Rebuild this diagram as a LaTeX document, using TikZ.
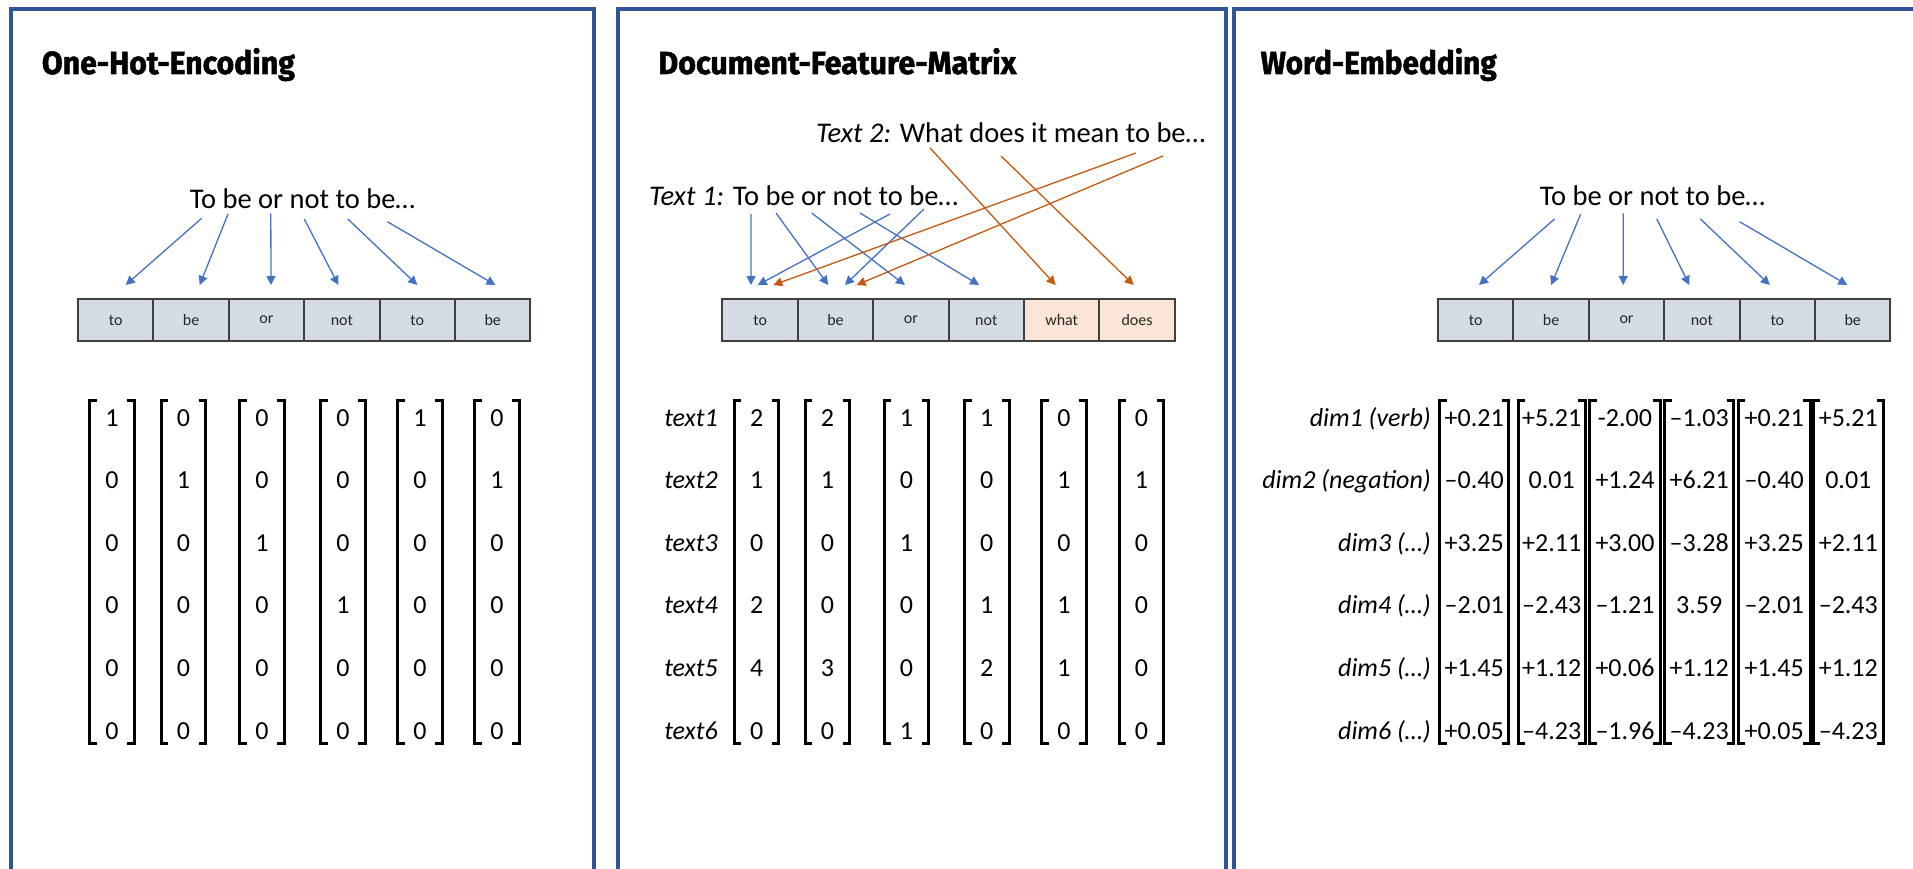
\documentclass[tikz,border=0pt]{standalone}
\usepackage{fontspec}
\usepackage{graphicx}
\setmainfont{Carlito}
\newfontfamily\titlefont{Fira Sans}[BoldFeatures={FakeBold=1.6}]
\usetikzlibrary{arrows.meta,calc}

\definecolor{frameblue}{RGB}{47,85,151}
\definecolor{arrblue}{RGB}{68,114,196}
\definecolor{arrorange}{RGB}{197,90,17}
\definecolor{boxgray}{RGB}{214,220,229}
\definecolor{boxpeach}{RGB}{251,229,214}
\definecolor{boxline}{RGB}{64,64,64}

\newlength\fitlen
\newcommand\fitto[2]{\settowidth\fitlen{#2}\pgfmathsetmacro\fitsx{#1/\fitlen}\scalebox{\fitsx}[1]{#2}}

\tikzset{
  panelframe/.style={draw=frameblue, line width=4pt},
  paneltitle/.style={anchor=base west, inner sep=0pt, font=\titlefont\bfseries\fontsize{32}{36}\selectfont},
  sentence/.style={anchor=base, inner sep=0pt, font=\fontsize{28.5}{34}\selectfont},
  sentencew/.style={anchor=base west, inner sep=0pt, font=\fontsize{28.5}{34}\selectfont},
  wordbox/.style={draw=boxline, line width=2pt, fill=boxgray, minimum width=75.4pt, minimum height=42pt, inner sep=0pt, font=\fontsize{16}{18}\selectfont, text=black!85},
  newbox/.style={wordbox, fill=boxpeach},
  arrb/.style={draw=arrblue, line width=1.3pt, -{Triangle[length=9pt,width=9pt]}},
  arro/.style={draw=arrorange, line width=1.3pt, -{Triangle[length=9pt,width=9pt]}},
  cell/.style={anchor=base, inner sep=0pt, font=\fontsize{26}{30}\selectfont},
  rowlabel/.style={anchor=base east, inner sep=0pt, font=\itshape\fontsize{26}{30}\selectfont},
  colvec/.style={minimum width=#1, minimum height=342pt, inner sep=0pt},
  brk/.style={draw=black, line width=3pt}
}

\begin{document}
\begin{tikzpicture}[x=1pt,y=-1pt]
\clip (0,0) rectangle (1913,869);
\fill[white] (0,0) rectangle (1913,869);

% ---------- panel frames ----------
\draw[panelframe] (11,9) rectangle (594,900);
\draw[panelframe] (618,9) rectangle (1226,900);
\draw[panelframe] (1234,9) rectangle (1960,900);

% ---------- titles ----------
\node[paneltitle] (h1) at (41.7,74) {\fitto{253}{One-Hot-Encoding}};
\node[paneltitle] (h2) at (658.2,74) {\fitto{358}{Document-Feature-Matrix}};
\node[paneltitle] (h3) at (1260.5,74) {\fitto{236}{Word-Embedding}};

% ---------- sentences ----------
\node[sentence] (s1) at (302.5,208.5) {To be or not to be…};
\node[sentencew] (t2) at (816,142.7) {\textit{Text 2:} What does it mean to be…};
\node[sentencew] (t1) at (649,205.6) {\textit{Text 1:} To be or not to be…};
\node[sentence] (s3) at (1652.5,205) {To be or not to be…};

% ---------- word boxes ----------
\foreach \w [count=\i] in {to,be,or,not,to,be}{
  \node[wordbox] (a\i) at ({78+37.7+75.4*(\i-1)},320) {\w};
  \node[wordbox] (c\i) at ({1438+37.7+75.4*(\i-1)},320) {\w};
}
\foreach \w/\st [count=\i] in {to/wordbox,be/wordbox,or/wordbox,not/wordbox,what/newbox,does/newbox}{
  \node[\st] (b\i) at ({722.4+37.7+75.4*(\i-1)},320) {\w};
}

% ---------- arrows panel 1 ----------
\coordinate (s1w1) at (201.6,218.3);
\coordinate (s1w2) at (228,214);
\coordinate (s1w3) at (270.8,213.3);
\coordinate (s1w4) at (304.3,219);
\coordinate (s1w5) at (347.8,219);
\coordinate (s1w6) at (387.4,221.7);
\draw[arrb] (s1w1) -- ([xshift=10pt,yshift=13pt]a1.north);
\draw[arrb] (s1w2) -- ([xshift=8.6pt,yshift=13pt]a2.north);
\draw[arrb] (s1w3) -- ([xshift=4.5pt,yshift=13pt]a3.north);
\draw[arrb] (s1w4) -- ([xshift=-3.5pt,yshift=13pt]a4.north);
\draw[arrb] (s1w5) -- ([xshift=0pt,yshift=13pt]a5.north);
\draw[arrb] (s1w6) -- ([xshift=2.7pt,yshift=13pt]a6.north);

% ---------- arrows panel 2 ----------
\coordinate (t1w1) at (751,214);
\coordinate (t1w2) at (776,213);
\coordinate (t1w3) at (811.7,213);
\coordinate (t1w4) at (860,213);
\coordinate (t1w5) at (890,214);
\coordinate (t1w6) at (924,209);
\coordinate (t2w1) at (930,148);
\coordinate (t2w2) at (1001,156);
\coordinate (t2w3) at (1136,153);
\coordinate (t2w4) at (1163,156);
\draw[arrb] (t1w1) -- ([xshift=-9.1pt,yshift=13pt]b1.north);
\draw[arrb] (t1w2) -- ([xshift=-7.3pt,yshift=13pt]b2.north);
\draw[arrb] (t1w3) -- ([xshift=-6pt,yshift=13pt]b3.north);
\draw[arrb] (t1w4) -- ([xshift=-7.2pt,yshift=13pt]b4.north);
\draw[arrb] (t1w5) -- ([xshift=-2.4pt,yshift=13pt]b1.north);
\draw[arrb] (t1w6) -- ([xshift=9.4pt,yshift=13pt]b2.north);
\draw[arro] (t2w1) -- ([xshift=-6.1pt,yshift=13pt]b5.north);
\draw[arro] (t2w2) -- ([xshift=-3.4pt,yshift=13pt]b6.north);
\draw[arro] (t2w3) -- ([xshift=13.2pt,yshift=13pt]b1.north);
\draw[arro] (t2w4) -- ([xshift=21.1pt,yshift=13pt]b2.north);

% ---------- arrows panel 3 ----------
\coordinate (s3w1) at (1554.5,219);
\coordinate (s3w2) at (1580.6,214.3);
\coordinate (s3w3) at (1623.3,213.3);
\coordinate (s3w4) at (1656.8,219);
\coordinate (s3w5) at (1700.4,219);
\coordinate (s3w6) at (1739.6,221.7);
\draw[arrb] (s3w1) -- ([xshift=3.3pt,yshift=13pt]c1.north);
\draw[arrb] (s3w2) -- ([xshift=0pt,yshift=13pt]c2.north);
\draw[arrb] (s3w3) -- ([xshift=-3.3pt,yshift=13pt]c3.north);
\draw[arrb] (s3w4) -- ([xshift=-12.6pt,yshift=13pt]c4.north);
\draw[arrb] (s3w5) -- ([xshift=-7.5pt,yshift=13pt]c5.north);
\draw[arrb] (s3w6) -- ([xshift=-5.4pt,yshift=13pt]c6.north);

% ---------- matrix panel 1 ----------
\foreach \cx/\vals [count=\c] in {112/{1,0,0,0,0,0},183.5/{0,1,0,0,0,0},262/{0,0,1,0,0,0},343/{0,0,0,1,0,0},420/{1,0,0,0,0,0},497/{0,1,0,0,0,0}}{
  \node[colvec=44pt] (p1c\c) at (\cx,572) {};
  \draw[brk] ([xshift=7pt]p1c\c.north west) -- (p1c\c.north west) -- (p1c\c.south west) -- ([xshift=7pt]p1c\c.south west);
  \draw[brk] ([xshift=-7pt]p1c\c.north east) -- (p1c\c.north east) -- (p1c\c.south east) -- ([xshift=-7pt]p1c\c.south east);
  \foreach \v [count=\r] in \vals {
    \node[cell] (p1e\c\r) at (\cx,{426+(\r-1)*62.6}) {\v};
  }
}

% ---------- matrix panel 2 ----------
\foreach \lab [count=\r] in {text1,text2,text3,text4,text5,text6}{
  \node[rowlabel] (p2l\r) at (718,{426+(\r-1)*62.6}) {\lab};
}
\foreach \cx/\vals [count=\c] in {756.6/{2,1,0,2,4,0},827.4/{2,1,0,0,3,0},906.5/{1,0,1,0,0,1},986.8/{1,0,0,1,2,0},1063.9/{0,1,0,1,1,0},1141.5/{0,1,0,0,0,0}}{
  \node[colvec=44pt] (p2c\c) at (\cx,572) {};
  \draw[brk] ([xshift=7pt]p2c\c.north west) -- (p2c\c.north west) -- (p2c\c.south west) -- ([xshift=7pt]p2c\c.south west);
  \draw[brk] ([xshift=-7pt]p2c\c.north east) -- (p2c\c.north east) -- (p2c\c.south east) -- ([xshift=-7pt]p2c\c.south east);
  \foreach \v [count=\r] in \vals {
    \node[cell] (p2e\c\r) at (\cx,{426+(\r-1)*62.6}) {\v};
  }
}

% ---------- matrix panel 3 ----------
\foreach \lab [count=\r] in {dim1 (verb),dim2 (negation),dim3 (…),dim4 (…),dim5 (…),dim6 (…)}{
  \node[rowlabel] (p3l\r) at (1431,{426+(\r-1)*62.6}) {\lab};
}
\foreach \cx/\w/\vals [count=\c] in {
  1474.2/68.3/{+0.21,–0.40,+3.25,–2.01,+1.45,+0.05},
  1551.7/66.7/{+5.21,0.01,+2.11,–2.43,+1.12,–4.23},
  1625/70/{-2.00,+1.24,+3.00,–1.21,+0.06,–1.96},
  1699.2/68.3/{–1.03,+6.21,–3.28,3.59,+1.12,–4.23},
  1774.2/71.7/{+0.21,–0.40,+3.25,–2.01,+1.45,+0.05},
  1848.3/70/{+5.21,0.01,+2.11,–2.43,+1.12,–4.23}}{
  \node[colvec=\w pt] (p3c\c) at (\cx,572) {};
  \draw[brk] ([xshift=7pt]p3c\c.north west) -- (p3c\c.north west) -- (p3c\c.south west) -- ([xshift=7pt]p3c\c.south west);
  \draw[brk] ([xshift=-7pt]p3c\c.north east) -- (p3c\c.north east) -- (p3c\c.south east) -- ([xshift=-7pt]p3c\c.south east);
  \foreach \v [count=\r] in \vals {
    \node[cell] (p3e\c\r) at (\cx,{426+(\r-1)*62.6}) {\v};
  }
}
\end{tikzpicture}
\end{document}
